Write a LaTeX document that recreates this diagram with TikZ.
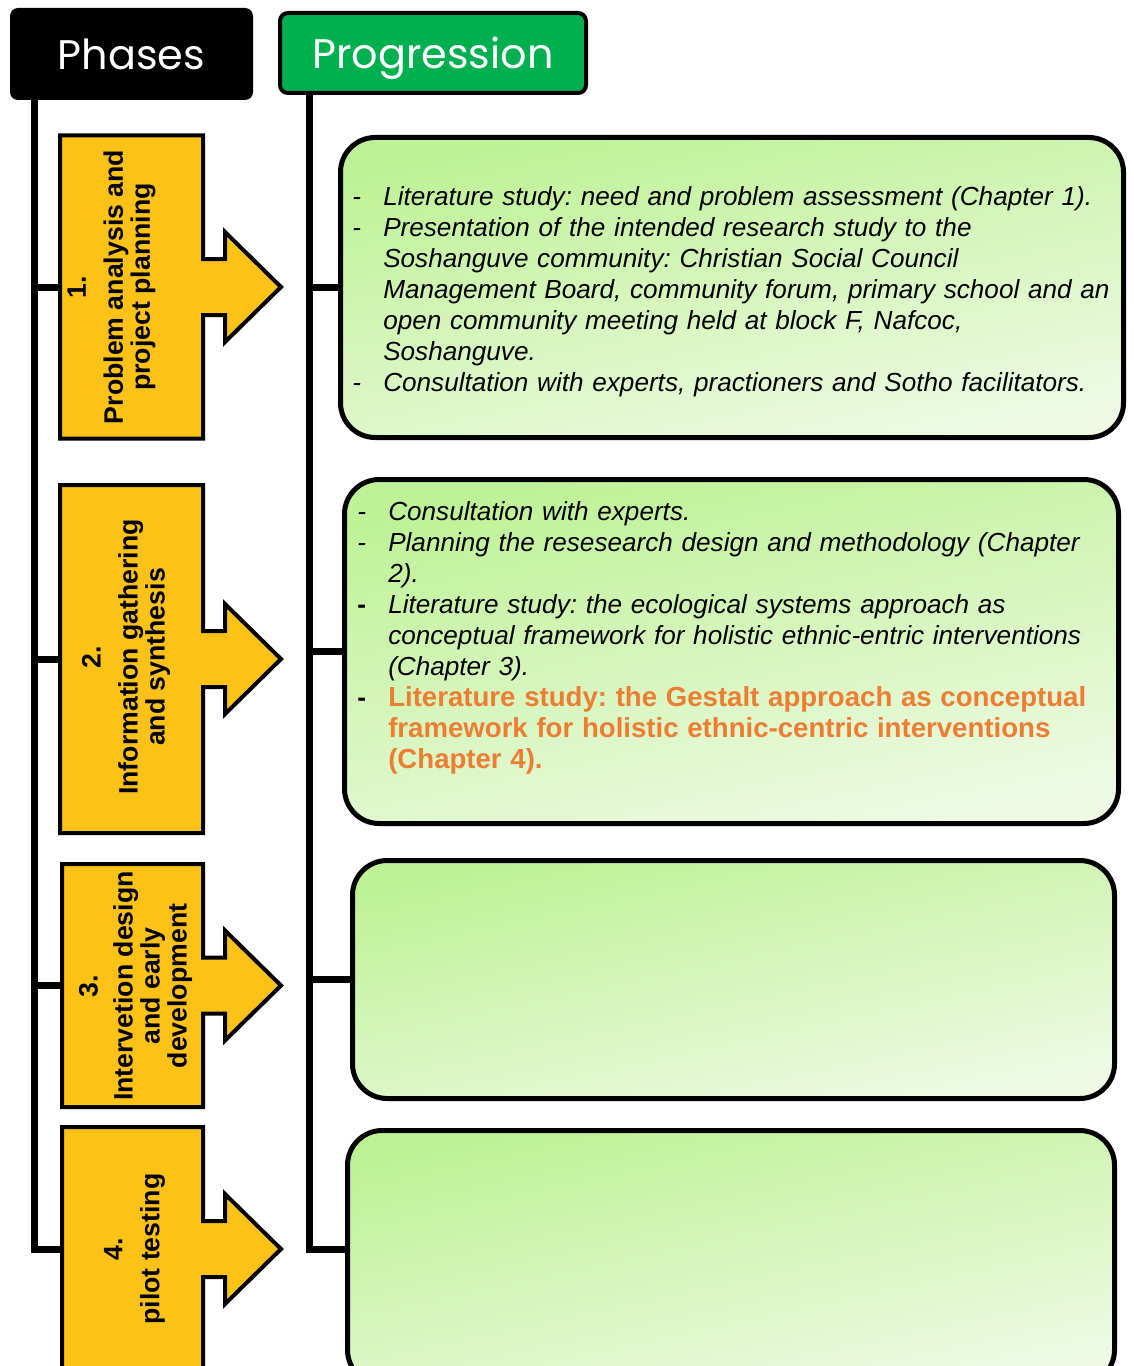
\documentclass[tikz,border=0pt]{standalone}
\usepackage{fontspec}
\setmainfont{Liberation Sans}
\newfontfamily\headfont{Poppins}
\usepackage{tikz}
\usetikzlibrary{positioning,calc}

\definecolor{phaseyellow}{RGB}{253,194,24}
\definecolor{headgreen}{RGB}{0,176,80}
\definecolor{boxgreenA}{RGB}{190,242,150}
\definecolor{boxgreenB}{RGB}{238,250,228}
\definecolor{gestaltorange}{RGB}{237,125,49}

\newcommand{\dashitem}{\makebox[23.25pt][l]{-}}
\newcommand{\bolddash}{\makebox[23.25pt][l]{\upshape\bfseries -}}
\newcommand{\contline}{\hspace*{23.25pt}}
\newcommand{\gestalt}[1]{{\upshape\bfseries\color{gestaltorange}\fontsize{20.7}{23.6}\selectfont #1}}

\tikzset{
  bus/.style={line width=5.25pt},
  header/.style={rounded corners=6pt, text=white, inner sep=0pt, text depth=0pt,
    font=\headfont\fontsize{31}{34}\selectfont},
  phasebox/.style={fill=phaseyellow, draw=black, line width=3pt, line join=miter},
  phasetext/.style={rotate=90, align=center, inner sep=0pt,
    font=\bfseries\fontsize{20}{20.25}\selectfont},
  progbox/.style={draw=black, line width=3.75pt, rounded corners=26pt, inner sep=0pt,
    top color=boxgreenA, bottom color=boxgreenB, shading angle=12},
  progtext/.style={anchor=base west, align=left, text width=620pt, inner sep=0pt,
    font=\itshape\fontsize{19.6}{23.25}\selectfont},
}

\begin{document}
\frenchspacing
\begin{tikzpicture}[x=0.75pt, y=-0.75pt]
    \useasboundingbox (0,0) rectangle (1133,1366);

    % Headers
    \node[header, fill=black, minimum width=243*0.75pt, minimum height=92*0.75pt] (phases) at (131.5,54) {Phases};
    \node[header, fill=headgreen, draw=black, line width=3pt, minimum width=306*0.75pt, minimum height=80*0.75pt] (progression) at (433,53) {Progression};

    % Phase arrows
    \foreach \i/\l/\c/\h in {1/60/287/151.5, 2/60/659/174, 3/62/985.5/121.5, 4/62/1249/122}{
        \draw[phasebox] (\l,\c-\h) -- (203,\c-\h) -- (203,\c-28) -- (225,\c-28) -- (225,\c-55) -- (281,\c)
            -- (225,\c+55) -- (225,\c+28) -- (203,\c+28) -- (203,\c+\h) -- (\l,\c+\h) -- cycle;
        \coordinate (ph\i) at (\l,\c);
    }

    \node[phasetext] (lbl1) at (111.5,287) {1.\\[7.5pt]Problem analysis and\\project planning};
    \node[phasetext] (lbl2) at (126,657) {2.\\[7.5pt]Information gathering\\and synthesis};
    \node[phasetext] (lbl3) at (135.5,986) {3.\\[6pt]Intervetion design\\and early\\development};
    \node[phasetext] (lbl4) at (134.5,1249) {4.\\[7.5pt]pilot testing};

    % Progression boxes
    \node[progbox, minimum width=783*0.75pt, minimum height=300*0.75pt] (prog1) at (732,287.5) {};
    \node[progbox, minimum width=774*0.75pt, minimum height=344*0.75pt] (prog2) at (731.5,651.5) {};
    \node[progbox, minimum width=762*0.75pt, minimum height=238*0.75pt] (prog3) at (733.5,979.5) {};
    \node[progbox, minimum width=767*0.75pt, minimum height=254*0.75pt] (prog4) at (731,1257.5) {};

    % Buses
    \coordinate (lbus) at (34,100);
    \draw[bus] (lbus) |- (ph4);
    \foreach \i in {1,2,3}
        \draw[bus] (lbus |- ph\i) -- (ph\i);

    \coordinate (rbus) at (309,95);
    \draw[bus] (rbus) |- (ph4 -| prog4.west);
    \foreach \i in {1,2,3}
        \draw[bus] (rbus |- prog\i.west) -- (prog\i.west);

    % Box texts
    \node[progtext] (items1) at (352,205) {%
        \dashitem Literature study: need and problem assessment (Chapter 1).\\
        \dashitem Presentation of the intended research study to the\\
        \contline Soshanguve community: Christian Social Council\\
        \contline Management Board, community forum, primary school and an\\
        \contline open community meeting held at block F, Nafcoc,\\
        \contline Soshanguve.\\
        \dashitem Consultation with experts, practioners and Sotho facilitators.};

    \node[progtext] (items2) at (357,520) {%
        \dashitem Consultation with experts.\\
        \dashitem Planning the resesearch design and methodology (Chapter\\
        \contline 2).\\
        \bolddash Literature study: the ecological systems approach as\\
        \contline conceptual framework for holistic ethnic-entric interventions\\
        \contline (Chapter 3).\\
        \bolddash\gestalt{Literature study: the Gestalt approach as conceptual}\\
        \contline\gestalt{framework for holistic ethnic-centric interventions}\\
        \contline\gestalt{(Chapter 4).}};
\end{tikzpicture}
\end{document}
